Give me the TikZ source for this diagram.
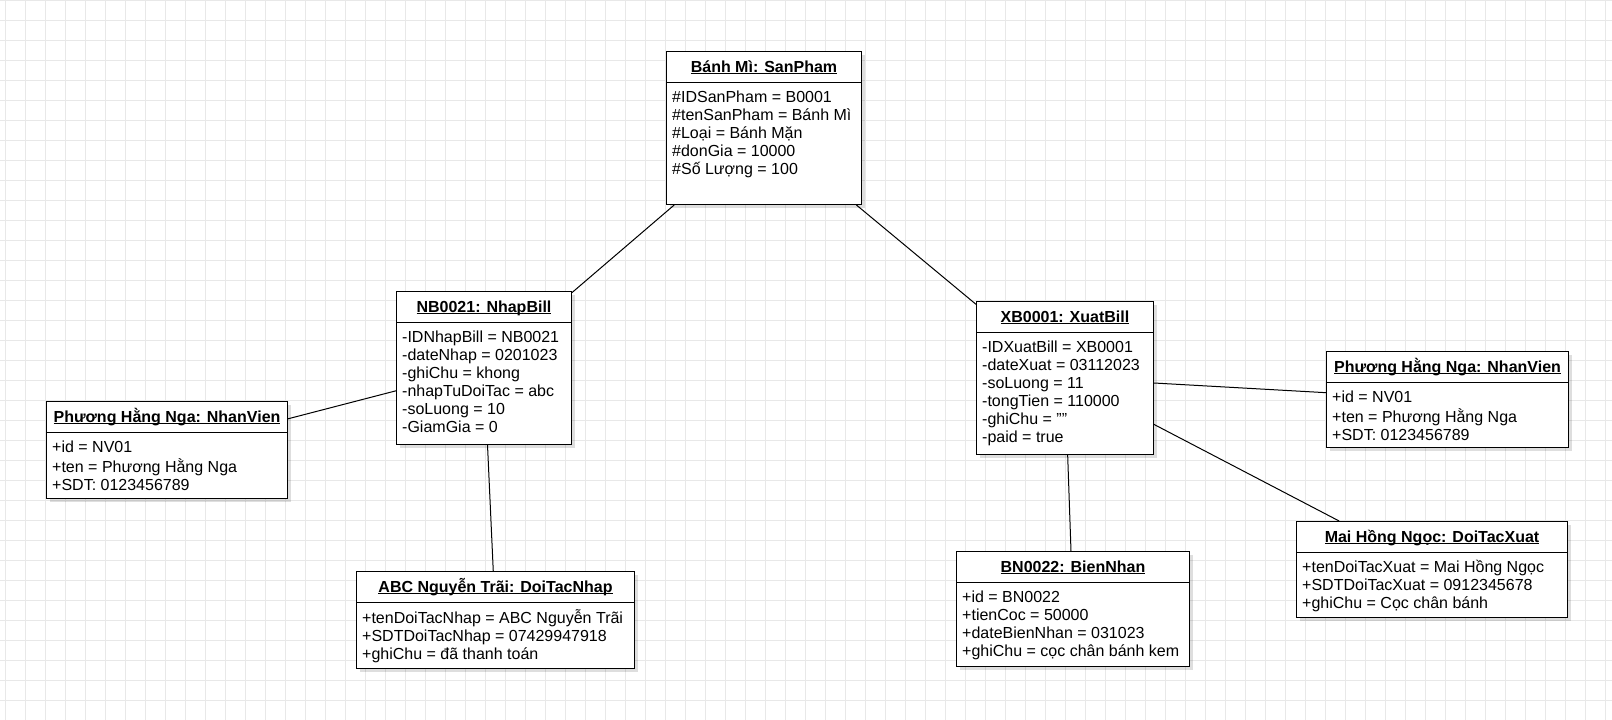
\documentclass[tikz,border=0pt]{standalone}
\usepackage{fontspec}
\setmainfont{Liberation Sans}
\usetikzlibrary{shadows,calc}

% underlined object title, rule drawn just under the baseline
\newcommand\ultitle[1]{\setbox0\hbox{#1}\rlap{\rule[-2.3pt]{\wd0}{1pt}}\box0}

\tikzset{
  objbox/.style={draw=black, line width=1pt, fill=white, rectangle, inner sep=0pt,
    anchor=north west,
    drop shadow={shadow xshift=3pt, shadow yshift=-3pt, fill=black, opacity=0.13}},
  objtitle/.style={anchor=base, inner sep=0pt, font=\fontsize{16}{18}\selectfont\bfseries},
  objattr/.style={anchor=north west, inner sep=0pt, align=left, font=\fontsize{16}{18}\selectfont},
  link/.style={draw=black, line width=1pt},
  gridline/.style={draw=black!9, line width=1pt}
}

% object box: name, x, y, width, height, title, attribute lines
\newcommand\umlobject[7]{%
  \node[objbox, minimum width=#4pt, minimum height=#5pt] (#1) at (#2,#3) {};
  \draw[line width=1pt] ($(#1.north west)+(0pt,-31pt)$) -- ($(#1.north east)+(0pt,-31pt)$);
  \node[objtitle] (#1-title) at ($(#1.north)+(0pt,-21pt)$) {\ultitle{#6}};
  \node[objattr] (#1-attrs) at ($(#1.north west)+(6pt,-38.4pt)$) {#7};
}

\begin{document}
\begin{tikzpicture}[x=1pt,y=-1pt]
  \useasboundingbox (0,0) rectangle (1612,720);
  \fill[white] (0,0) rectangle (1612,720);
  % background grid
  \foreach \gx in {5,25,...,1605} \draw[gridline] (\gx,0) -- (\gx,720);
  \foreach \gy in {0,20,...,720} \draw[gridline] (0,\gy) -- (1612,\gy);

  \umlobject{sp}{666}{51}{195}{153}{Bánh Mì: SanPham}
    {\strut\#IDSanPham = B0001\\\strut\#tenSanPham = Bánh Mì\\\strut\#Loại = Bánh Mặn\\\strut\#donGia = 10000\\\strut\#Số Lượng = 100}

  \umlobject{nb}{396}{291}{175}{153}{NB0021: NhapBill}
    {\strut-IDNhapBill = NB0021\\\strut-dateNhap = 0201023\\\strut-ghiChu = khong\\\strut-nhapTuDoiTac = abc\\\strut-soLuong = 10\\\strut-GiamGia = 0}

  \umlobject{nvl}{46}{401}{241}{97}{Phương Hằng Nga: NhanVien}
    {\strut+id = NV01\\\strut+ten = Phương Hằng Nga\\\strut+SDT: 0123456789}

  \umlobject{dtn}{356}{571}{278}{97}{ABC Nguyễn Trãi: DoiTacNhap}
    {\strut+tenDoiTacNhap = ABC Nguyễn Trãi\\\strut+SDTDoiTacNhap = 07429947918\\\strut+ghiChu = đã thanh toán}

  \umlobject{xb}{976}{301}{177}{153}{XB0001: XuatBill}
    {\strut-IDXuatBill = XB0001\\\strut-dateXuat = 03112023\\\strut-soLuong = 11\\\strut-tongTien = 110000\\\strut-ghiChu = ""\\\strut-paid = true}

  \umlobject{nvr}{1326}{351}{242}{96}{Phương Hằng Nga: NhanVien}
    {\strut+id = NV01\\\strut+ten = Phương Hằng Nga\\\strut+SDT: 0123456789}

  \umlobject{bn}{956}{551}{233}{115}{BN0022: BienNhan}
    {\strut+id = BN0022\\\strut+tienCoc = 50000\\\strut+dateBienNhan = 031023\\\strut+ghiChu = cọc chân bánh kem}

  \umlobject{dtx}{1296}{521}{271}{96}{Mai Hồng Ngọc: DoiTacXuat}
    {\strut+tenDoiTacXuat = Mai Hồng Ngọc\\\strut+SDTDoiTacXuat = 0912345678\\\strut+ghiChu = Cọc chân bánh}

  % associations
  \draw[link] (sp) -- (nb);
  \draw[link] (sp) -- (xb);
  \draw[link] (nb) -- (nvl);
  \draw[link] (nb) -- (dtn);
  \draw[link] (xb) -- (nvr);
  \draw[link] (xb) -- (dtx);
  \draw[link] (xb) -- (bn);
\end{tikzpicture}
\end{document}
